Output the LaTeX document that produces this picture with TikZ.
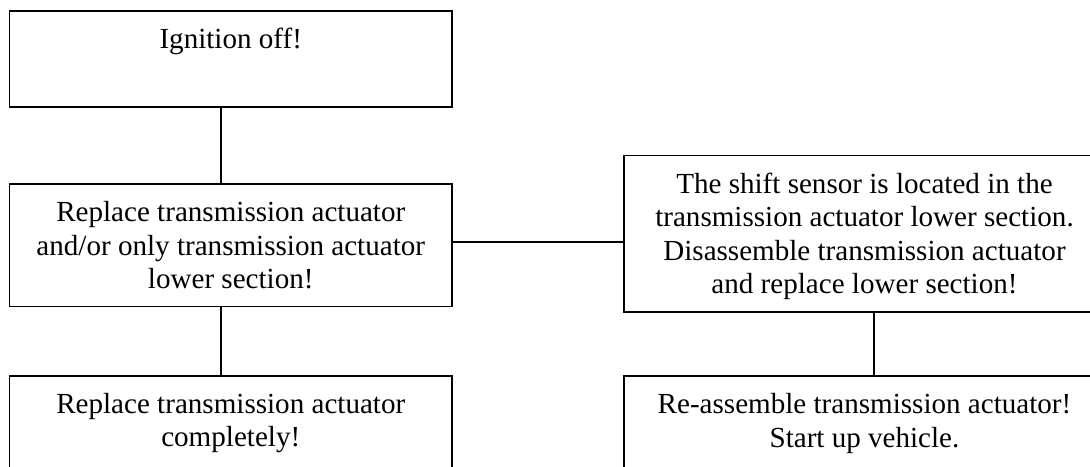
\documentclass[tikz,border=0pt]{standalone}
\usepackage{fontspec}
\setmainfont{Liberation Serif}
\usetikzlibrary{fit}
\begin{document}
\begin{tikzpicture}[x=0.4125pt,y=-0.4125pt,
  box/.style={draw, line width=0.75pt, inner sep=0pt},
  conn/.style={line width=0.75pt},
  txt/.style={anchor=north, inner sep=0pt, align=center,
    font=\fontsize{12pt}{13.75pt}\selectfont, yshift=-6.2pt}]
\useasboundingbox (0,0) rectangle (1090,466);
\clip (0,0) rectangle (1090,466);
\node[box, fit={(9.5,11) (452,107)},
  label={[txt]north:{\strut Ignition off!}}] (b1) {};
\node[box, fit={(9.5,184) (452,306.5)},
  label={[txt]north:{\strut Replace transmission actuator\\and/or only transmission actuator\\lower section!}}] (b2) {};
\node[box, fit={(9.5,375.7) (452,520)},
  label={[txt]north:{\strut Replace transmission actuator\\completely!}}] (b3) {};
\node[box, fit={(624,155.5) (1105,311.7)},
  label={[txt]north:{\strut The shift sensor is located in the\\transmission actuator lower section.\\Disassemble transmission actuator\\and replace lower section!}}] (b4) {};
\node[box, fit={(624,376) (1105,520)},
  label={[txt]north:{\strut Re-assemble transmission actuator!\\Start up vehicle.}}] (b5) {};
\draw[conn] ([xshift=-4.02pt]b1.south) -- ([xshift=-4.02pt]b1.south |- b2.north);
\draw[conn] ([xshift=-4.02pt]b2.south) -- ([xshift=-4.02pt]b2.south |- b3.north);
\draw[conn] ([yshift=1.45pt]b2.east) -- ([yshift=1.45pt]b2.east -| b4.west);
\draw[conn] ([xshift=3.92pt]b4.south) -- ([xshift=3.92pt]b4.south |- b5.north);
\end{tikzpicture}
\end{document}
